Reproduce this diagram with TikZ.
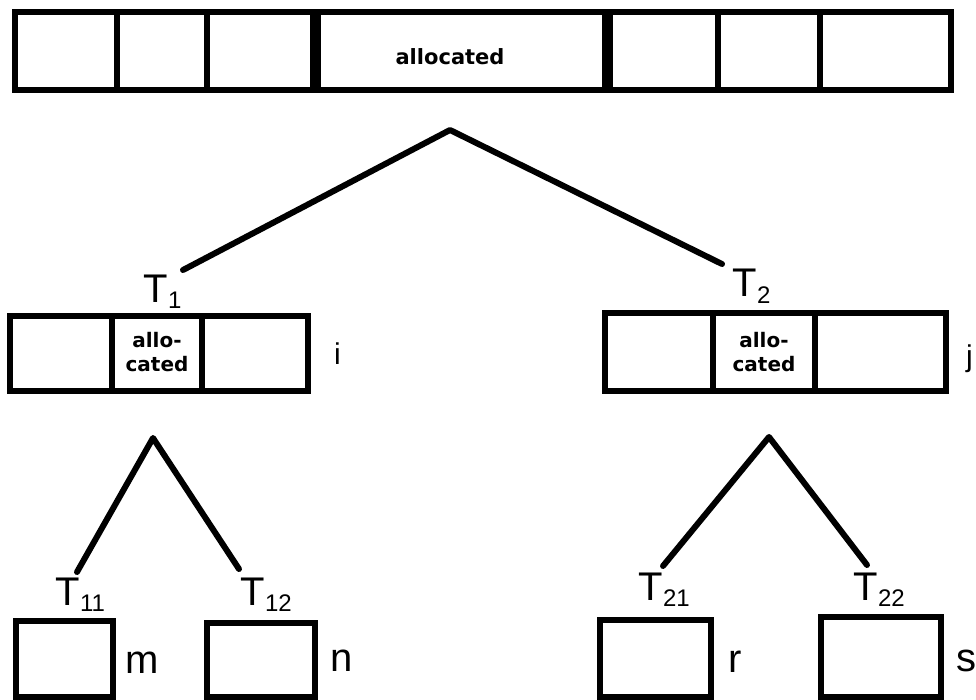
\documentclass[tikz,border=0pt]{standalone}
\usepackage{fontspec}
\setmainfont{Liberation Sans}
\newfontfamily\allocfont{DejaVu Sans}
\newcommand{\Tsub}[1]{T\kern0.5pt\raisebox{-6pt}{\fontsize{24}{24}\selectfont #1}}
\tikzset{
  box/.style={line width=6pt, line join=miter},
  thickdiv/.style={line width=11pt},
  branch/.style={line width=6pt, line cap=round, line join=round},
  tlbl/.style={font=\fontsize{40}{40}\selectfont, inner sep=0pt, anchor=base west},
  vlbl/.style={font=\fontsize{40}{40}\selectfont, inner sep=0pt, anchor=base west},
  slbl/.style={font=\fontsize{30}{30}\selectfont, inner sep=0pt, anchor=base west},
  alloc/.style={font=\allocfont\bfseries\fontsize{20}{24}\selectfont, align=center, inner sep=0pt},
}
\begin{document}
\begin{tikzpicture}[x=1pt,y=-1pt]
\useasboundingbox (0,0) rectangle (976,700);
% top memory bar
\draw[box] (15,12) rectangle (951,90);
\foreach \x in {117,207,718,820} \draw[box] (\x,12) -- (\x,90);
\foreach \x in {315,607} \draw[thickdiv] (\x,12) -- (\x,90);
\node[alloc, font=\allocfont\bfseries\fontsize{21}{24}\selectfont] (topalloc) at (450,57) {allocated};
% T1 block
\draw[box] (10,316) rectangle (308,391);
\foreach \x in {112,202} \draw[box] (\x,316) -- (\x,391);
\node[alloc] (alloc1) at (157,352) {allo-\\cated};
% T2 block
\draw[box] (605,313) rectangle (946,391);
\foreach \x in {713,815} \draw[box] (\x,313) -- (\x,391);
\node[alloc] (alloc2) at (764,352) {allo-\\cated};
% bottom blocks
\draw[box] (16,621) rectangle (113,697);
\draw[box] (207,623) rectangle (315,697);
\draw[box] (600,620) rectangle (711,697);
\draw[box] (821,617) rectangle (941,697);
% labels
\node[tlbl] (T1) at (143,302) {\Tsub{1}};
\node[tlbl] (T2) at (732,297) {\Tsub{2}};
\node[tlbl] (T11) at (55,605) {\Tsub{11}};
\node[tlbl] (T12) at (240,605) {\Tsub{12}};
\node[tlbl] (T21) at (638,600) {\Tsub{21}};
\node[tlbl] (T22) at (853,600) {\Tsub{22}};
\node[slbl] (li) at (334,364) {i};
\node[slbl] (lj) at (966,366) {j};
\node[vlbl] (lm) at (125,673) {m};
\node[vlbl] (ln) at (330,671) {n};
\node[vlbl] (lr) at (728,672) {r};
\node[vlbl] (ls) at (956,671) {s};
% tree connectors
\coordinate (top) at (450,130);
\coordinate (e1) at (183,270);
\coordinate (e2) at (722,264);
\coordinate (lt) at (153,438);
\coordinate (e11) at (77,572);
\coordinate (e12) at (239,569);
\coordinate (rt) at (769,437);
\coordinate (e21) at (663,566);
\coordinate (e22) at (867,565);
\draw[branch] (e1) -- (top) -- (e2);
\draw[branch] (e11) -- (lt) -- (e12);
\draw[branch] (e21) -- (rt) -- (e22);
\end{tikzpicture}
\end{document}
